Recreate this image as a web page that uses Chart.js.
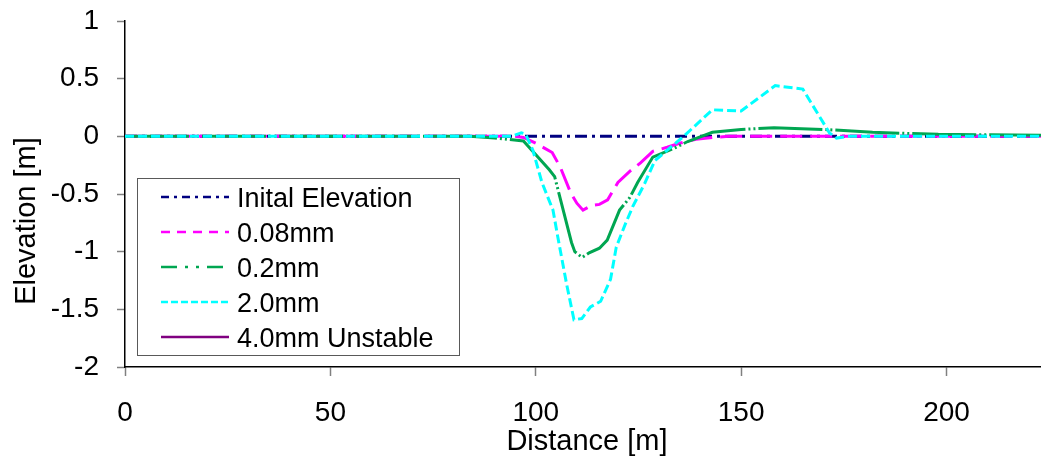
<!DOCTYPE html>
<html>
<head>
<meta charset="utf-8">
<script src="https://cdn.jsdelivr.net/npm/chart.js@4.4.0/dist/chart.umd.min.js"></script>
<style>
	html, body { margin: 0; padding: 0; background: #fff; }
	#chart { display: block; }
</style>
</head>
<body>
<canvas id="chart" width="1041" height="459"></canvas>
<script>
// data

const xTitle = 'Distance [m]',
	yTitle = 'Elevation [m]';

const distTicks = [0, 50, 100, 150, 200],
	elevTicks = [-2, -1.5, -1, -0.5, 0, 0.5, 1];

const seriesNames = ['Inital Elevation', '0.08mm', '0.2mm', '2.0mm', '4.0mm Unstable'];

const initX = [0, 223],
	initY = [0, 0];

const fineX = [0, 95, 97, 100, 102, 104, 106, 108.5, 110, 111.5, 113.5, 115.5, 117.5, 120, 123, 125.5, 128.5, 132, 135, 139, 143, 147, 223],
	fineY = [0, 0, -0.01, -0.06, -0.1, -0.14, -0.27, -0.49, -0.58, -0.64, -0.6, -0.59, -0.55, -0.4, -0.3, -0.23, -0.13, -0.095, -0.06, -0.026, -0.01, 0, 0];

const mediumX = [0, 84, 90, 97, 103.3, 104.6, 108.7, 109.5, 111.3, 113, 115.5, 117.4, 120.4, 122.9, 124.8, 128.5, 133.3, 137, 143, 150, 158, 170, 182, 198, 223],
	mediumY = [0, 0, -0.015, -0.04, -0.29, -0.35, -0.92, -1.0, -1.05, -1.01, -0.97, -0.9, -0.64, -0.53, -0.4, -0.18, -0.11, -0.045, 0.035, 0.06, 0.075, 0.06, 0.035, 0.017, 0.01];

const coarseX = [0, 94, 96.5, 97.5, 99.3, 101.5, 104.2, 105.4, 107.5, 109.3, 111.2, 113.3, 115.8, 118.2, 119.6, 121.7, 123.6, 126.5, 129, 132, 136, 143, 150, 158.3, 165, 171.5, 173.2, 176, 223],
	coarseY = [0, 0, 0.03, 0.02, -0.12, -0.4, -0.64, -0.88, -1.28, -1.59, -1.58, -1.48, -1.43, -1.24, -0.96, -0.77, -0.61, -0.41, -0.21, -0.12, 0, 0.23, 0.22, 0.44, 0.41, 0.03, -0.015, 0, 0];

// unstable run has no plotted values, only the legend entry
const unstableX = [],
	unstableY = [];


const toPoints = (xs, ys) => xs.map((x, i) => ({x: x, y: ys[i]}));

const fontFamily = '"Liberation Sans", Arial, sans-serif';

// line styles: colour, dash in plot, dash in legend
const styles = [
	{color: '#000080', dash: [12, 5, 3, 5], legendDash: [8, 5, 3, 5]},
	{color: '#ff00ff', dash: [22, 8], legendDash: [9, 7]},
	{color: '#00a651', dash: [64, 3, 2, 3, 2, 3], legendDash: [16, 8, 3, 8, 3, 8]},
	{color: '#00ffff', dash: [9, 4], legendDash: [7, 3]},
	{color: '#800080', dash: [], legendDash: []}
];

const allSeries = [
	toPoints(initX, initY),
	toPoints(fineX, fineY),
	toPoints(mediumX, mediumY),
	toPoints(coarseX, coarseY),
	toPoints(unstableX, unstableY)
];


// boxed legend and axis titles drawn on top
const framePlugin = {
	id: 'frame',
	afterDraw(chart) {
		const ctx = chart.ctx,
			area = chart.chartArea;

		ctx.save();
		ctx.fillStyle = '#000';
		ctx.textAlign = 'center';
		ctx.textBaseline = 'middle';
		ctx.font = '29px ' + fontFamily;
		ctx.fillText(xTitle, (area.left + area.right) / 2 + 4, 442);

		ctx.save();
		ctx.translate(27, 221);
		ctx.rotate(-Math.PI / 2);
		ctx.fillText(yTitle, 0, 0);
		ctx.restore();

		// legend box
		const box = {x: 137.5, y: 178.5, w: 322, h: 177};
		ctx.fillStyle = '#fff';
		ctx.fillRect(box.x, box.y, box.w, box.h);
		ctx.strokeStyle = '#595959';
		ctx.lineWidth = 1;
		ctx.strokeRect(box.x, box.y, box.w, box.h);

		ctx.font = '27px ' + fontFamily;
		ctx.textAlign = 'left';
		ctx.textBaseline = 'alphabetic';
		chart.data.datasets.forEach((ds, i) => {
			const y = 197 + i * 35;
			ctx.beginPath();
			ctx.setLineDash(styles[i].legendDash);
			ctx.strokeStyle = ds.borderColor;
			ctx.lineWidth = 2.5;
			ctx.moveTo(161, y);
			ctx.lineTo(229, y);
			ctx.stroke();
			ctx.setLineDash([]);
			ctx.fillStyle = '#000';
			ctx.fillText(ds.label, 237, y + 9.5);
		});
		ctx.restore();
	}
};


const chartEl = document.getElementById('chart');

new Chart(chartEl, {
	type: 'line',
	data: {
		datasets: allSeries.map((pts, i) => ({
			label: seriesNames[i],
			data: pts,
			borderColor: styles[i].color,
			backgroundColor: styles[i].color,
			borderDash: styles[i].dash,
			borderWidth: 3,
			pointRadius: 0,
			tension: 0,
			fill: false,
			order: seriesNames.length - i
		}))
	},
	options: {
		responsive: false,
		devicePixelRatio: 1,
		animation: false,
		layout: {
			padding: {top: 21, right: 0, left: 0, bottom: 0}
		},
		scales: {
			x: {
				type: 'linear',
				min: 0,
				max: 223,
				afterFit: (scale) => {
					scale.height = 92;
					scale.paddingLeft = 0;
					scale.paddingRight = 0;
				},
				afterBuildTicks: (scale) => { scale.ticks = distTicks.map(v => ({value: v})); },
				grid: {
					drawOnChartArea: false,
					drawTicks: true,
					tickLength: 9,
					tickColor: '#808080',
					tickWidth: 1.5
				},
				border: {color: '#000', width: 1.5},
				ticks: {
					color: '#000',
					padding: 20,
					maxRotation: 0,
					font: {family: fontFamily, size: 28},
					callback: (v) => String(v)
				}
			},
			y: {
				type: 'linear',
				min: -2,
				max: 1,
				afterFit: (scale) => {
					scale.width = 125;
					scale.paddingTop = 0;
					scale.paddingBottom = 0;
				},
				afterBuildTicks: (scale) => { scale.ticks = elevTicks.map(v => ({value: v})); },
				grid: {
					drawOnChartArea: false,
					drawTicks: true,
					tickLength: 8,
					tickColor: '#808080',
					tickWidth: 1.5
				},
				border: {color: '#000', width: 1.5},
				ticks: {
					color: '#000',
					padding: 18,
					font: {family: fontFamily, size: 28},
					callback: (v) => String(v)
				}
			}
		},
		plugins: {
			legend: {display: false},
			tooltip: {enabled: false}
		}
	},
	plugins: [framePlugin]
});
</script>
</body>
</html>
